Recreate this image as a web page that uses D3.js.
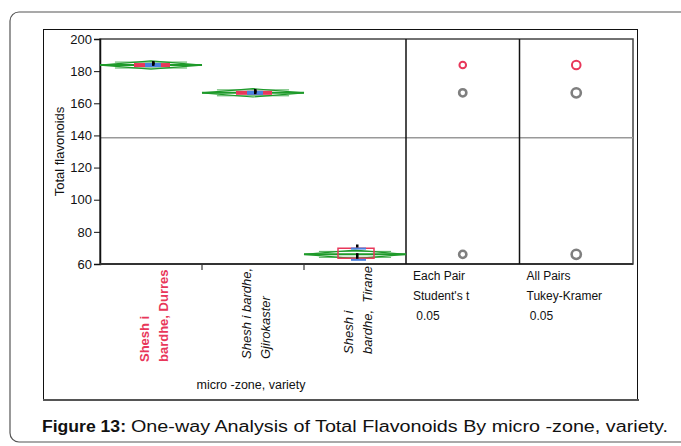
<!DOCTYPE html>
<html><head><meta charset="utf-8">
<script src="https://cdn.jsdelivr.net/npm/d3@7"></script>
<style>body{margin:0;background:#fff}svg{display:block;font-family:"Liberation Sans",Arial,sans-serif}</style>
</head><body><svg id="c" width="681" height="446"></svg>
<script>
const groups = ["Shesh i bardhe, Durres", "Shesh i bardhe, Gjirokaster", "Shesh i bardhe, Tirane"];
const labelLines = [["Shesh i", "bardhe, Durres"], ["Shesh i bardhe,", "Gjirokaster"], ["Shesh i", "bardhe,  Tirane"]];
const means = [183.8, 166.5, 66.0];
const ciHalf = [2.6, 2.6, 2.6];
const points = [[184.2, 185.0, 185.3], [166.6, 167.4, 168.0], [71.2, 65.8, 64.2]];
const boxLo = [183.0, 165.8, 63.6];
const boxHi = [184.3, 167.0, 69.8];
const sdLo = [183.3, 166.0, 62.6];
const sdHi = [184.2, 166.9, 69.6];
const grandMean = 138.6;
const yTicks = [60, 80, 100, 120, 140, 160, 180, 200];
const compTitles = [["Each Pair", "Student's t", " 0.05"], ["All Pairs", "Tukey-Kramer", " 0.05"]];
const compRadius = [3.3, 4.3];
const caption = ["Figure 13:", "One-way Analysis of Total Flavonoids By micro -zone, variety."];

const svg = d3.select("#c");
const FONT = "Liberation Sans, Arial, sans-serif";
const RED = "#e8375a", BLUE = "#4a80e0", GREEN = "#1e9a2a", GREY = "#7f7f7f";
const L = 100, R = 633, T = 39, B = 264;
const y = d3.scaleLinear().domain([60, 200]).range([B, T]);
const x = d3.scaleBand().domain(groups).range([L, 406]);
const cx = d3.scaleBand().domain([0, 1]).range([406, R]);

// outer frame
svg.append("rect").attr("x", 10).attr("y", 12).attr("width", 700).attr("height", 430).attr("rx", 9)
  .attr("fill", "none").attr("stroke", "#555").attr("stroke-width", 1.2);
// inner box
svg.append("rect").attr("x", 43.5).attr("y", 29.5).attr("width", 594).attr("height", 370)
  .attr("fill", "#fff").attr("stroke", "#111").attr("stroke-width", 1);
svg.append("line").attr("x1", 43).attr("x2", 639).attr("y1", 400).attr("y2", 400).attr("stroke", "#555").attr("stroke-width", 2);

// plot frame
svg.append("rect").attr("x", L).attr("y", T).attr("width", R - L).attr("height", B - T)
  .attr("fill", "none").attr("stroke", "#444").attr("stroke-width", 1.5);

// grand mean
svg.append("line").attr("x1", L).attr("x2", R).attr("y1", y(grandMean)).attr("y2", y(grandMean))
  .attr("stroke", "#999").attr("stroke-width", 1.5);

// y axis
const ya = svg.append("g").attr("transform", `translate(${L},0)`)
  .call(d3.axisLeft(y).tickValues(yTicks).tickSize(6).tickPadding(2));
ya.attr("font-family", FONT);
ya.select(".domain").attr("stroke", "#111").attr("stroke-width", 1.5);
ya.selectAll("text").attr("font-size", 13).attr("fill", "#111");
ya.selectAll("line").attr("stroke", "#111");
svg.append("text").attr("transform", `translate(64,${(T + B) / 2}) rotate(-90)`).attr("text-anchor", "middle")
  .attr("font-size", 13).attr("fill", "#111").text("Total flavonoids");

// x axis ticks at group boundaries
const bounds = groups.slice(1).map(g => x(g));
svg.selectAll(".xt").data(bounds).join("line").attr("x1", d => d).attr("x2", d => d)
  .attr("y1", B).attr("y2", B + 6).attr("stroke", "#111");
svg.append("line").attr("x1", L).attr("x2", R).attr("y1", B).attr("y2", B).attr("stroke", "#333").attr("stroke-width", 2);

// panel dividers
[406, cx(1)].forEach(v => svg.append("line").attr("x1", v).attr("x2", v).attr("y1", T).attr("y2", B)
  .attr("stroke", "#111").attr("stroke-width", 1.5));

// group marks
groups.forEach((g, i) => {
  const x0 = x(g), x1 = x0 + x.bandwidth(), xm = x0 + x.bandwidth() / 2, m = means[i], h = ciHalf[i];
  const gg = svg.append("g");
  gg.append("path").attr("d", `M${x0},${y(m)}L${xm},${y(m + h)}L${x1},${y(m)}L${xm},${y(m - h)}Z`)
    .attr("fill", "none").attr("stroke", GREEN).attr("stroke-width", 1.2);
  const o = h / Math.SQRT2, f = 1 - o / h;
  [m + o, m - o].forEach(v => gg.append("line").attr("x1", x0 + f * x.bandwidth() / 2).attr("x2", x1 - f * x.bandwidth() / 2)
    .attr("y1", y(v)).attr("y2", y(v)).attr("stroke", GREEN).attr("stroke-width", 1).attr("opacity", 0.8));
  gg.append("line").attr("x1", x0).attr("x2", x1).attr("y1", y(m)).attr("y2", y(m)).attr("stroke", GREEN).attr("stroke-width", 2);
  const bw = 36, bx = xm - bw / 2 + 1;
  const bh = y(boxLo[i]) - y(boxHi[i]);
  if (bh > 4) {
    gg.append("rect").attr("x", bx).attr("y", y(boxHi[i])).attr("width", bw).attr("height", bh)
      .attr("fill", "none").attr("stroke", RED).attr("stroke-width", 1.5);
    [sdHi[i], sdLo[i]].forEach(v => gg.append("line").attr("x1", xm - 4).attr("x2", xm + 11).attr("y1", y(v)).attr("y2", y(v))
      .attr("stroke", BLUE).attr("stroke-width", 2));
  } else {
    gg.append("rect").attr("x", bx).attr("y", y(m) - 2).attr("width", bw).attr("height", 4).attr("fill", RED);
    gg.append("rect").attr("x", xm - 6).attr("y", y(m) - 2).attr("width", 16).attr("height", 4).attr("fill", BLUE);
  }
  gg.selectAll(".p").data(points[i]).join("rect").attr("x", xm + 1).attr("y", d => y(d) - 1.5)
    .attr("width", 2.5).attr("height", 3).attr("fill", "#000");
  // label
  const t = svg.append("text").attr("font-size", 13)
    .attr("fill", i === 0 ? RED : "#111").attr("font-style", i === 0 ? "normal" : "italic").attr("font-weight", i === 0 ? "bold" : "normal");
  const ly = [362, 359, 354][i];
  labelLines[i].forEach((s, k) => t.append("tspan").attr("x", 0).attr("dy", k === 0 ? 0 : 19).attr("xml:space", "preserve").style("white-space", "pre").text(s));
  t.attr("transform", `translate(${xm - 2},${ly}) rotate(-90)`);
});

// x axis title
svg.append("text").attr("x", 251).attr("y", 389).attr("text-anchor", "middle").attr("font-size", 12.5).attr("fill", "#111")
  .text("micro -zone, variety");

// comparison circles
[0, 1].forEach(j => {
  const c = cx(j) + cx.bandwidth() / 2;
  means.forEach((m, i) => svg.append("circle").attr("cx", c).attr("cy", y(m)).attr("r", compRadius[j] + (i === 0 ? 0 : 0.3))
    .attr("fill", "none").attr("stroke", i === 0 ? RED : GREY).attr("stroke-width", i === 0 ? 2 : 2.6));
  compTitles[j].forEach((s, k) => svg.append("text").attr("x", cx(j) + 7).attr("y", 280 + k * 20)
    .attr("font-size", 12).attr("fill", "#111").attr("xml:space", "preserve").style("white-space", "pre").text(s));
});

// caption
svg.append("text").attr("x", 42).attr("y", 432).attr("font-size", 16).attr("font-weight", "bold").attr("fill", "#111")
  .attr("textLength", 84).attr("lengthAdjust", "spacingAndGlyphs").text(caption[0]);
svg.append("text").attr("x", 131).attr("y", 432).attr("font-size", 16).attr("fill", "#111")
  .attr("textLength", 537).attr("lengthAdjust", "spacingAndGlyphs").text(caption[1]);
</script></body></html>
